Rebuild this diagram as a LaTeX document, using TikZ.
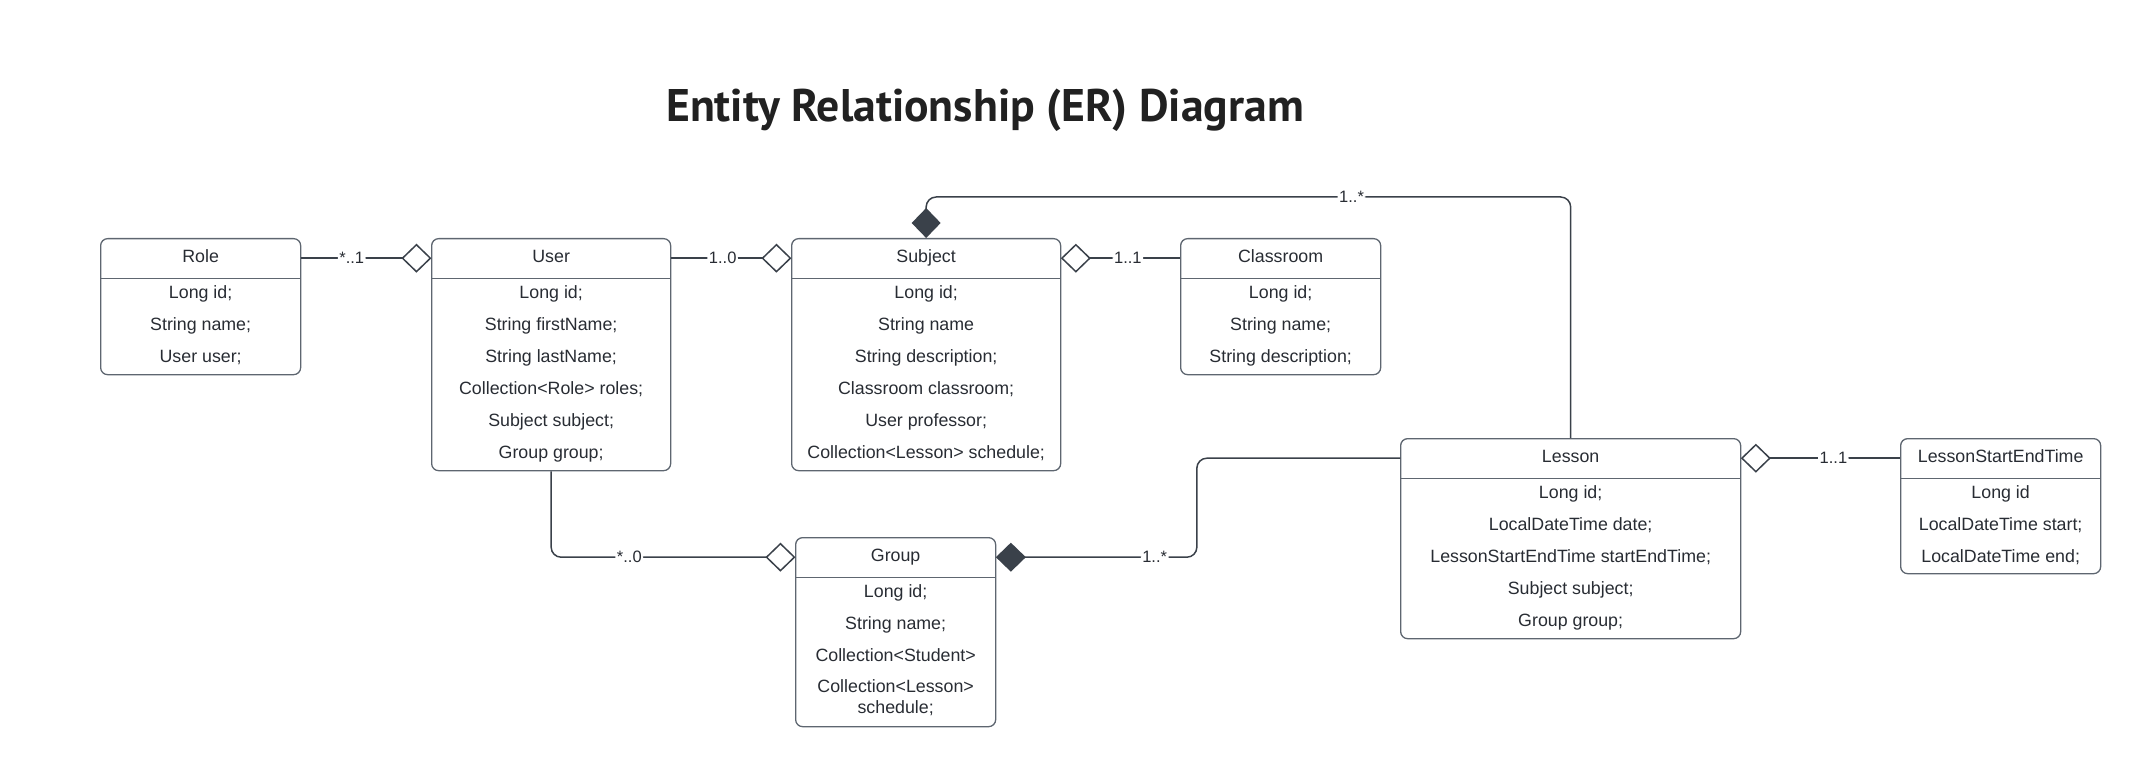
\documentclass[tikz,border=0pt]{standalone}
\usepackage{fontspec}
\setmainfont{Liberation Sans}
\newfontfamily\titlefont{PT Sans}
\usepackage{tikz}
\usetikzlibrary{arrows.meta}
\usetikzlibrary{positioning}
\definecolor{linegray}{HTML}{3A414A}
\definecolor{boxgray}{HTML}{5E6670}
\definecolor{txtgray}{HTML}{282C33}
\tikzset{opendia/.tip={Diamond[open,length=30pt,width=29pt]},
  filldia/.tip={Diamond[length=30pt,width=29pt]}}
\begin{document}
\begin{tikzpicture}[x=1pt,y=-1pt,every node/.style={text=txtgray,font=\fontsize{17.8}{21}\selectfont},
  entity/.style={draw=boxgray,line width=1.3pt,rounded corners=7pt,anchor=north west,inner sep=0pt},
  head/.style={inner sep=0pt,minimum height=40pt,text height=12pt,text depth=4pt},
  row/.style={inner sep=0pt,anchor=base},
  lbl/.style={fill=white,inner sep=1.5pt,font=\fontsize{16.5}{20}\selectfont},
  conn/.style={draw=linegray,line width=1.5pt,rounded corners=10pt}]
  \useasboundingbox (0,0) rectangle (2144,767);
  \node[font=\titlefont\bfseries\fontsize{45.7}{52}\selectfont,text=black!87,anchor=base] (title) at (985,122) {Entity Relationship (ER) Diagram};

  \node[entity,minimum width=200pt,minimum height=136pt] (role) at (100,238) {};
  \node[head,minimum width=200pt,below=0pt of role.north] (role-h) {Role};
  \draw[draw=boxgray,line width=1.3pt] (role-h.south west) -- (role-h.south east);
  \foreach \t [count=\i] in {Long id;,String name;,User user;}
    \node[row] (role-\i) at ([yshift=-20-32*\i+32]role-h.south) {\t};

  \node[entity,minimum width=239pt,minimum height=232pt] (user) at (431,238) {};
  \node[head,minimum width=239pt,below=0pt of user.north] (user-h) {User};
  \draw[draw=boxgray,line width=1.3pt] (user-h.south west) -- (user-h.south east);
  \foreach \t [count=\i] in {Long id;,String firstName;,String lastName;,Collection<Role> roles;,Subject subject;,Group group;}
    \node[row] (user-\i) at ([yshift=-20-32*\i+32]user-h.south) {\t};

  \node[entity,minimum width=269pt,minimum height=232pt] (subject) at (791,238) {};
  \node[head,minimum width=269pt,below=0pt of subject.north] (subject-h) {Subject};
  \draw[draw=boxgray,line width=1.3pt] (subject-h.south west) -- (subject-h.south east);
  \foreach \t [count=\i] in {Long id;,String name,String description;,Classroom classroom;,User professor;,Collection<Lesson> schedule;}
    \node[row] (subject-\i) at ([yshift=-20-32*\i+32]subject-h.south) {\t};

  \node[entity,minimum width=200pt,minimum height=136pt] (classroom) at (1180,238) {};
  \node[head,minimum width=200pt,below=0pt of classroom.north] (classroom-h) {Classroom};
  \draw[draw=boxgray,line width=1.3pt] (classroom-h.south west) -- (classroom-h.south east);
  \foreach \t [count=\i] in {Long id;,String name;,String description;}
    \node[row] (classroom-\i) at ([yshift=-20-32*\i+32]classroom-h.south) {\t};

  \node[entity,minimum width=340pt,minimum height=200pt] (lesson) at (1400,438) {};
  \node[head,minimum width=340pt,below=0pt of lesson.north] (lesson-h) {Lesson};
  \draw[draw=boxgray,line width=1.3pt] (lesson-h.south west) -- (lesson-h.south east);
  \foreach \t [count=\i] in {Long id;,LocalDateTime date;,LessonStartEndTime startEndTime;,Subject subject;,Group group;}
    \node[row] (lesson-\i) at ([yshift=-20-32*\i+32]lesson-h.south) {\t};

  \node[entity,minimum width=200pt,minimum height=135pt] (lset) at (1900,438) {};
  \node[head,minimum width=200pt,below=0pt of lset.north] (lset-h) {LessonStartEndTime};
  \draw[draw=boxgray,line width=1.3pt] (lset-h.south west) -- (lset-h.south east);
  \foreach \t [count=\i] in {Long id,LocalDateTime start;,LocalDateTime end;}
    \node[row] (lset-\i) at ([yshift=-20-32*\i+32]lset-h.south) {\t};

  \node[entity,minimum width=200pt,minimum height=189pt] (group) at (795,537) {};
  \node[head,minimum width=200pt,below=0pt of group.north] (group-h) {Group};
  \draw[draw=boxgray,line width=1.3pt] (group-h.south west) -- (group-h.south east);
  \foreach \t/\d [count=\i] in {Long id;/20,String name;/52,Collection<Student>/84,Collection<Lesson>/115,schedule;/136}
    \node[row] (group-\i) at ([yshift=-\d]group-h.south) {\t};

  \draw[conn,-opendia] (role-h.east) -- node[lbl,pos=0.39]{*..1} (user-h.west);
  \draw[conn,-opendia] (user-h.east) -- node[lbl,pos=0.43]{1..0} (subject-h.west);
  \draw[conn,opendia-] (subject-h.east) -- node[lbl,pos=0.56]{1..1} (classroom-h.west);
  \draw[conn,filldia-] (subject.north) -- ++(0,-41) -| node[lbl,pos=0.33]{1..*} (lesson.north);
  \draw[conn,-opendia] (user.south) |- node[lbl,pos=0.66]{*..0} (group-h.west);
  \draw[conn,filldia-] (group-h.east) -- node[lbl,pos=0.79]{1..*} ++(201,0) |- (lesson-h.west);
  \draw[conn,opendia-] (lesson-h.east) -- node[lbl,pos=0.58]{1..1} (lset-h.west);
\end{tikzpicture}
\end{document}
